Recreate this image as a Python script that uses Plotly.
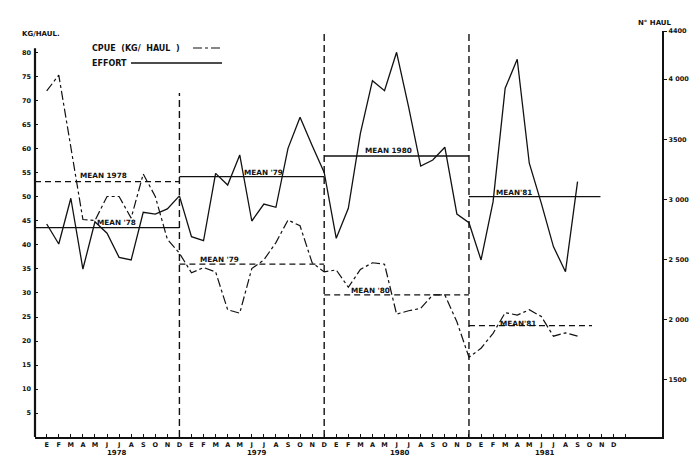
import plotly.graph_objects as go

# ---------------- data ----------------
month_letters = ["E", "F", "M", "A", "M", "J", "J", "A", "S", "O", "N", "D"]
year_labels = ["1978", "1979", "1980", "1981"]

cpue_1978 = [72.1, 75.4, 60.4, 45.3, 45.1, 50.1, 50.1, 45.6, 54.8, 50.1, 41.2, 38.3]
cpue_1979 = [34.2, 35.3, 34.4, 26.5, 25.8, 35.1, 36.9, 40.5, 45.2, 44.0, 36.3, 34.4]
cpue_1980 = [34.8, 31.2, 34.9, 36.3, 36.0, 25.6, 26.3, 26.8, 29.6, 29.6, 24.0, 16.6]
cpue_1981 = [18.5, 21.6, 25.9, 25.4, 26.5, 25.1, 21.0, 21.7, 21.0]

effort_1978 = [2796, 2630, 3010, 2422, 2815, 2720, 2519, 2497, 2893, 2879, 2921, 3030]
effort_1979 = [2691, 2657, 3217, 3120, 3370, 2821, 2962, 2935, 3425, 3683, 3448, 3225]
effort_1980 = [2677, 2927, 3550, 3987, 3904, 4223, 3768, 3278, 3328, 3434, 2879, 2807]
effort_1981 = [2497, 2982, 3924, 4165, 3301, 2968, 2608, 2400, 3148]

cpue_means = [53.2, 36.0, 29.6, 23.2]
effort_means = [2766, 3190, 3361, 3023]
cpue_mean_labels = ["MEAN 1978", "MEAN '79", "MEAN '80", "MEAN'81"]
effort_mean_labels = ["MEAN '78", "MEAN '79", "MEAN 1980", "MEAN'81"]
mean_start = [-0.97, 11, 23, 35]
cpue_mean_end = [11, 23, 35, 45.2]
effort_mean_end = [11, 23, 35, 45.9]
year_breaks = [11, 23, 35]

left_ticks = list(range(5, 81, 5))
right_tickvals = [1500, 2000, 2500, 3000, 3500, 4000, 4400]
right_ticktext = ["1500", "2 000", "2 500", "3 000", "3500", "4 000", "4400"]

# --------------- build ---------------
cpue = cpue_1978 + cpue_1979 + cpue_1980 + cpue_1981
effort = effort_1978 + effort_1979 + effort_1980 + effort_1981
INK = "#111111"
FONT = "DejaVu Sans"

fig = go.Figure()
fig.add_trace(go.Scatter(x=list(range(len(cpue))), y=cpue, mode="lines",
                         line=dict(color=INK, width=1.2, dash="dashdot"),
                         yaxis="y", showlegend=False, hoverinfo="skip"))
fig.add_trace(go.Scatter(x=list(range(len(effort))), y=effort, mode="lines",
                         line=dict(color=INK, width=1.3),
                         yaxis="y2", showlegend=False, hoverinfo="skip"))

for s, e, v in zip(mean_start, cpue_mean_end, cpue_means):
    fig.add_trace(go.Scatter(x=[s, e], y=[v, v], mode="lines",
                             line=dict(color=INK, width=1.2, dash="6px,4px"),
                             yaxis="y", showlegend=False, hoverinfo="skip"))
for s, e, v in zip(mean_start, effort_mean_end, effort_means):
    fig.add_trace(go.Scatter(x=[s, e], y=[v, v], mode="lines",
                             line=dict(color=INK, width=1.3),
                             yaxis="y2", showlegend=False, hoverinfo="skip"))

# The page body has an 8px default margin: size the figure to fit the window.
OFF = 8
W, H = 700 - OFF, 475 - OFF
L, T = 35 - OFF, 31 - OFF
R = W - (662 - OFF)
B = H - (437 - OFF)
PW, PH = W - L - R, H - T - B


def xp(px):
    """page pixel x -> paper fraction"""
    return (px - OFF - L) / PW


def yp(py):
    """page pixel y -> paper fraction"""
    return (H - B - (py - OFF)) / PH


shapes = []
# vertical year separators
for i, xb in enumerate(year_breaks):
    shapes.append(dict(type="line", xref="x", yref="paper", x0=xb, x1=xb,
                       y0=0, y1=yp(93) if i == 0 else 1.0,
                       line=dict(color=INK, width=1.4, dash="7px,4px")))
# left axis line (stops just above 80)
shapes.append(dict(type="line", xref="paper", yref="y", x0=0, x1=0, y0=0, y1=81,
                   line=dict(color=INK, width=2.2)))
# legend samples
shapes.append(dict(type="line", xref="paper", yref="paper", x0=xp(193), x1=xp(222),
                   y0=yp(48), y1=yp(48), line=dict(color=INK, width=1.2, dash="dashdot")))
shapes.append(dict(type="line", xref="paper", yref="paper", x0=xp(131), x1=xp(222),
                   y0=yp(63), y1=yp(63), line=dict(color=INK, width=1.3)))

ann = []
lab_font = dict(family=FONT, size=7.3, color=INK, weight="bold")
# mean labels
cpue_lab_pos = [(4.67, 54.4), (14.3, 36.9), (26.85, 30.5), (39.1, 23.75)]
eff_lab_pos = [(5.75, 2805), (18.0, 3220), (28.3, 3403), (38.75, 3056)]
for t, (x, y) in zip(cpue_mean_labels, cpue_lab_pos):
    ann.append(dict(text=t, x=x, y=y, xref="x", yref="y", showarrow=False,
                    font=lab_font, xanchor="center", yanchor="middle"))
for t, (x, y) in zip(effort_mean_labels, eff_lab_pos):
    ann.append(dict(text=t, x=x, y=y, xref="x", yref="y2", showarrow=False,
                    font=lab_font, xanchor="center", yanchor="middle"))
# year labels
for t, x in zip(year_labels, [5.83, 17.44, 29.3, 41.3]):
    ann.append(dict(text=t, x=x, y=yp(453), xref="x", yref="paper", showarrow=False,
                    font=dict(family=FONT, size=7, color=INK, weight="bold"),
                    xanchor="center", yanchor="middle"))
# axis titles
ann.append(dict(text="KG/HAUL.", x=xp(20), y=yp(34), xref="paper", yref="paper",
                showarrow=False, font=dict(family=FONT, size=7, color=INK, weight="bold"),
                xanchor="left", yanchor="middle"))
ann.append(dict(text="N° HAUL", x=xp(636), y=yp(23), xref="paper", yref="paper",
                showarrow=False, font=dict(family=FONT, size=7, color=INK, weight="bold"),
                xanchor="left", yanchor="middle"))
# legend texts
ann.append(dict(text="CPUE  (KG/  HAUL  )", x=xp(90), y=yp(49), xref="paper", yref="paper",
                showarrow=False, font=dict(family=FONT, size=8, color=INK, weight="bold"),
                xanchor="left", yanchor="middle"))
ann.append(dict(text="EFFORT", x=xp(90), y=yp(64), xref="paper", yref="paper",
                showarrow=False, font=dict(family=FONT, size=8, color=INK, weight="bold"),
                xanchor="left", yanchor="middle"))

fig.update_layout(
    width=W, height=H,
    margin=dict(l=L, r=R, t=T, b=B, pad=0, autoexpand=False),
    paper_bgcolor="white", plot_bgcolor="white",
    showlegend=False,
    shapes=shapes, annotations=ann,
    xaxis=dict(range=[-0.97, 51.0], tickmode="array",
               tickvals=list(range(49)), ticktext=month_letters * 4 + [""],
               ticks="inside", ticklen=3, tickwidth=1, tickcolor=INK,
               showline=True, linewidth=2.2, linecolor=INK,
               showgrid=False, zeroline=False, tickangle=0,
               tickfont=dict(family=FONT, size=6.5, color=INK, weight="bold")),
    yaxis=dict(range=[0, 84.58], tickmode="array", tickvals=left_ticks,
               ticks="inside", ticklen=3, tickwidth=1, tickcolor=INK,
               showline=False, showgrid=False, zeroline=False,
               ticklabelstandoff=3,
               tickfont=dict(family=FONT, size=6.5, color=INK, weight="bold")),
    yaxis2=dict(range=[1026, 4400], overlaying="y", side="right",
                tickmode="array", tickvals=right_tickvals, ticktext=right_ticktext,
                ticks="outside", ticklen=3, tickwidth=1, tickcolor=INK,
                showline=True, linewidth=2.2, linecolor=INK,
                showgrid=False, zeroline=False, ticklabelstandoff=0,
                tickfont=dict(family=FONT, size=6.5, color=INK, weight="bold")),
)

fig.write_html("out.html")
